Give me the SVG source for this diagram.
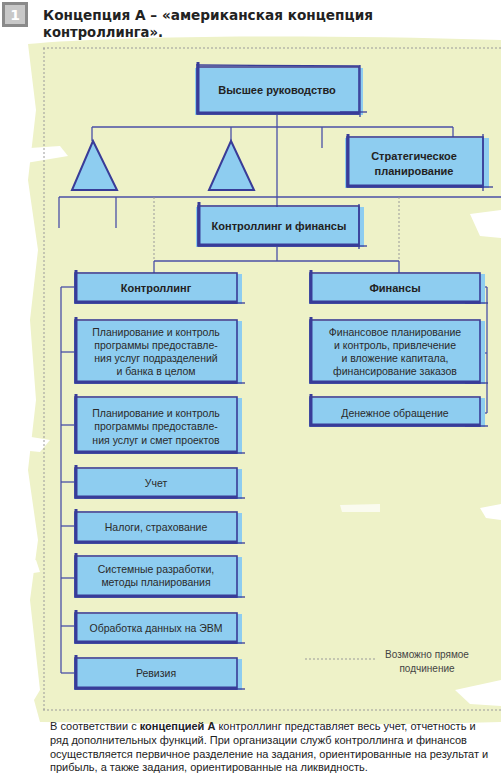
<svg xmlns="http://www.w3.org/2000/svg" width="501" height="777" viewBox="0 0 501 777">
<defs>
<style>
.bg{fill:#eef2c8}
.wh{fill:#ffffff}
.bf{fill:#8ecdf0}
.bs{fill:none;stroke:#393c98;stroke-width:1.6}
.bt{fill:none;stroke:#393c98;stroke-width:3}
.bx{fill:none;stroke:#393c98;stroke-width:1.3}
.cn{fill:none;stroke:#4a4fa6;stroke-width:1.3}
.ds{fill:none;stroke:#9a9a9a;stroke-width:1;stroke-dasharray:2 2}
.tri{fill:#8ecdf0;stroke:#393c98;stroke-width:2;stroke-linejoin:miter}
.t{font-family:"Liberation Sans",Arial,sans-serif;font-size:10.5px;fill:#2a2a2a;text-anchor:middle}
.tb{font-family:"Liberation Sans",Arial,sans-serif;font-size:11px;font-weight:bold;fill:#222;text-anchor:middle}
.ti{font-family:"DejaVu Sans","Liberation Sans",sans-serif;font-size:14px;font-weight:bold;fill:#222}
.p{font-family:"Liberation Sans",Arial,sans-serif;font-size:11px;fill:#222}
.lg{font-family:"Liberation Sans",Arial,sans-serif;font-size:10px;fill:#444;text-anchor:middle}
</style>
</defs>
<rect width="501" height="777" fill="#ffffff"/>
<!-- background brush -->
<path class="bg" d="M28,44 C120,36 300,34 501,40 L501,722 C380,726 200,724 40,722 L34,700 L40,690 L30,600 L38,540 L28,470 L36,400 L30,320 L38,250 L28,180 L36,110 Z"/>
<path class="wh" d="M0,150 L60,146 L68,156 L20,164 L0,162 Z"/>
<path class="wh" d="M0,432 L50,440 L40,452 L0,448 Z"/>
<path class="wh" d="M0,566 L36,560 L40,572 L0,578 Z"/>
<path class="wh" d="M470,214 L501,210 L501,238 L480,236 Z"/>
<path class="wh" d="M480,508 L501,504 L501,520 L486,518 Z"/>
<path class="wh" d="M455,690 L501,680 L501,706 L470,704 Z"/>
<path class="wh" d="M340,505 L380,504 L380,512 L342,512 Z" opacity="0.7"/>
<!-- title -->
<g id="title">
<rect x="3.5" y="3.5" width="23" height="22" fill="#c8c8c8" stroke="#8a8a8a" stroke-width="3"/>
<text x="15" y="20" style="font-family:'DejaVu Sans',sans-serif;font-size:14px;font-weight:bold;fill:#ffffff;text-anchor:middle">1</text>
<text class="ti" x="43" y="20" textLength="330" lengthAdjust="spacingAndGlyphs">Концепция А – «американская концепция</text>
<text class="ti" x="43" y="37" textLength="120" lengthAdjust="spacingAndGlyphs">контроллинга».</text>
</g>
<!-- frame -->
<line class="ds" x1="43" y1="48" x2="501" y2="48"/>
<line class="ds" x1="44" y1="48" x2="44" y2="710"/>
<line class="ds" x1="43" y1="710" x2="501" y2="710"/>
<!-- connectors -->
<g id="connectors">
<line class="cn" x1="277" y1="114" x2="277" y2="261"/>
<line class="cn" x1="92" y1="127" x2="453" y2="127"/>
<line class="cn" x1="92" y1="127" x2="92" y2="141"/>
<line class="cn" x1="231" y1="127" x2="231" y2="141"/>
<line class="cn" x1="322" y1="127" x2="322" y2="148"/>
<line class="cn" x1="453" y1="127" x2="453" y2="137"/>
<line class="cn" x1="59" y1="197" x2="501" y2="197"/>
<line class="cn" x1="59" y1="197" x2="59" y2="228"/>
<line class="cn" x1="116" y1="197" x2="116" y2="228"/>
<line class="ds" x1="154" y1="197" x2="154" y2="261"/>
<line class="ds" x1="399" y1="197" x2="399" y2="261"/>
<line class="cn" x1="154" y1="261" x2="399" y2="261"/>
<line class="cn" x1="154" y1="261" x2="154" y2="273"/>
<line class="cn" x1="399" y1="261" x2="399" y2="273"/>
<line class="cn" x1="61" y1="287" x2="61" y2="673"/>
<line class="cn" x1="61" y1="287" x2="75" y2="287"/>
<line class="cn" x1="61" y1="352" x2="75" y2="352"/>
<line class="cn" x1="61" y1="425" x2="75" y2="425"/>
<line class="cn" x1="61" y1="482" x2="75" y2="482"/>
<line class="cn" x1="61" y1="526" x2="75" y2="526"/>
<line class="cn" x1="61" y1="578" x2="75" y2="578"/>
<line class="cn" x1="61" y1="626" x2="75" y2="626"/>
<line class="cn" x1="61" y1="673" x2="75" y2="673"/>
<line class="cn" x1="487" y1="287" x2="487" y2="413"/>
<line class="cn" x1="480" y1="287" x2="487" y2="287"/>
<line class="cn" x1="480" y1="353" x2="487" y2="353"/>
<line class="cn" x1="480" y1="413" x2="487" y2="413"/>
</g>
<!-- triangles -->
<g id="tri1"><polygon class="tri" points="93,141 72,190 117,190"/></g>
<g id="tri2"><polygon class="tri" points="231,141 209,190 254,190"/></g>
<!-- nodes -->
<g id="top">
<rect class="bf" x="195" y="68" width="168" height="47"/>
<rect class="bs" x="197" y="67" width="162" height="47"/>
<line class="bt" x1="198" y1="62" x2="198" y2="114"/>
<line class="bt" x1="197" y1="113" x2="359" y2="113"/>
<line class="bx" x1="340" y1="112" x2="367" y2="112"/>
<line class="bx" x1="196" y1="65" x2="360" y2="66"/>
<line class="bx" x1="360" y1="65" x2="360" y2="117"/>
<text class="tb" x="277" y="94">Высшее руководство</text>
</g>
<g id="strat">
<rect class="bf" x="345" y="138" width="144" height="50"/>
<rect class="bs" x="347" y="137" width="136" height="50"/>
<line class="bt" x1="348" y1="134" x2="348" y2="187"/>
<line class="bt" x1="347" y1="186" x2="483" y2="186"/>
<line class="bx" x1="470" y1="187" x2="493" y2="187"/>
<line class="bx" x1="483" y1="134" x2="483" y2="191"/>
<text class="tb" x="414" y="160">Стратегическое</text>
<text class="tb" x="414" y="175">планирование</text>
</g>
<g id="cf">
<rect class="bf" x="196" y="207" width="168" height="40"/>
<rect class="bs" x="198" y="206" width="161" height="40"/>
<line class="bt" x1="199" y1="202" x2="199" y2="246"/>
<line class="bt" x1="198" y1="245" x2="359" y2="245"/>
<line class="bx" x1="340" y1="246" x2="367" y2="246"/>
<line class="bx" x1="359" y1="204" x2="359" y2="249"/>
<text class="tb" x="279" y="230">Контроллинг и финансы</text>
</g>
<g id="kontrolling">
<rect class="bf" x="74" y="274" width="168" height="30"/>
<rect class="bs" x="75" y="273" width="162" height="30"/>
<line class="bt" x1="76" y1="270" x2="76" y2="303"/>
<line class="bt" x1="75" y1="302" x2="237" y2="302"/>
<line class="bx" x1="220" y1="303" x2="245" y2="303"/>
<text class="tb" x="156" y="292">Контроллинг</text>
</g>
<g id="k1">
<rect class="bf" x="74" y="321" width="168" height="63"/>
<rect class="bs" x="75" y="320" width="162" height="63"/>
<line class="bt" x1="76" y1="317" x2="76" y2="383"/>
<line class="bt" x1="75" y1="382" x2="237" y2="382"/>
<line class="bx" x1="220" y1="383" x2="245" y2="383"/>
<text class="t" x="156" y="336">Планирование и контроль</text>
<text class="t" x="156" y="349">программы предоставле-</text>
<text class="t" x="156" y="362">ния услуг подразделений</text>
<text class="t" x="156" y="375">и банка в целом</text>
</g>
<g id="k2">
<rect class="bf" x="74" y="398" width="168" height="56"/>
<rect class="bs" x="75" y="397" width="162" height="56"/>
<line class="bt" x1="76" y1="394" x2="76" y2="453"/>
<line class="bt" x1="75" y1="452" x2="237" y2="452"/>
<line class="bx" x1="220" y1="453" x2="245" y2="453"/>
<text class="t" x="156" y="417">Планирование и контроль</text>
<text class="t" x="156" y="430">программы предоставле-</text>
<text class="t" x="156" y="444">ния услуг и смет проектов</text>
</g>
<g id="k3">
<rect class="bf" x="74" y="469" width="168" height="30"/>
<rect class="bs" x="75" y="468" width="162" height="30"/>
<line class="bt" x1="76" y1="465" x2="76" y2="498"/>
<line class="bt" x1="75" y1="497" x2="237" y2="497"/>
<line class="bx" x1="220" y1="498" x2="245" y2="498"/>
<text class="t" x="156" y="487">Учет</text>
</g>
<g id="k4">
<rect class="bf" x="74" y="513" width="168" height="31"/>
<rect class="bs" x="75" y="512" width="162" height="31"/>
<line class="bt" x1="76" y1="509" x2="76" y2="543"/>
<line class="bt" x1="75" y1="542" x2="237" y2="542"/>
<line class="bx" x1="220" y1="543" x2="245" y2="543"/>
<text class="t" x="156" y="531">Налоги, страхование</text>
</g>
<g id="k5">
<rect class="bf" x="74" y="557" width="168" height="41"/>
<rect class="bs" x="75" y="556" width="162" height="41"/>
<line class="bt" x1="76" y1="553" x2="76" y2="597"/>
<line class="bt" x1="75" y1="596" x2="237" y2="596"/>
<line class="bx" x1="220" y1="597" x2="245" y2="597"/>
<text class="t" x="156" y="573">Системные разработки,</text>
<text class="t" x="156" y="586">методы планирования</text>
</g>
<g id="k6">
<rect class="bf" x="74" y="614" width="168" height="30"/>
<rect class="bs" x="75" y="613" width="162" height="30"/>
<line class="bt" x1="76" y1="610" x2="76" y2="643"/>
<line class="bt" x1="75" y1="642" x2="237" y2="642"/>
<line class="bx" x1="220" y1="643" x2="245" y2="643"/>
<text class="t" x="156" y="632">Обработка данных на ЭВМ</text>
</g>
<g id="k7">
<rect class="bf" x="74" y="659" width="168" height="31"/>
<rect class="bs" x="75" y="658" width="162" height="31"/>
<line class="bt" x1="76" y1="655" x2="76" y2="689"/>
<line class="bt" x1="75" y1="688" x2="237" y2="688"/>
<line class="bx" x1="220" y1="689" x2="245" y2="689"/>
<text class="t" x="156" y="677">Ревизия</text>
</g>
<g id="finansy">
<rect class="bf" x="309" y="274" width="176" height="30"/>
<rect class="bs" x="310" y="273" width="170" height="30"/>
<line class="bt" x1="311" y1="270" x2="311" y2="303"/>
<line class="bt" x1="310" y1="302" x2="480" y2="302"/>
<line class="bx" x1="465" y1="303" x2="488" y2="303"/>
<text class="tb" x="395" y="292">Финансы</text>
</g>
<g id="f1">
<rect class="bf" x="309" y="321" width="176" height="63"/>
<rect class="bs" x="310" y="320" width="170" height="63"/>
<line class="bt" x1="311" y1="317" x2="311" y2="383"/>
<line class="bt" x1="310" y1="382" x2="480" y2="382"/>
<line class="bx" x1="465" y1="383" x2="488" y2="383"/>
<text class="t" x="395" y="336">Финансовое планирование</text>
<text class="t" x="395" y="349">и контроль, привлечение</text>
<text class="t" x="395" y="362">и вложение капитала,</text>
<text class="t" x="395" y="375">финансирование заказов</text>
</g>
<g id="f2">
<rect class="bf" x="309" y="398" width="176" height="29"/>
<rect class="bs" x="310" y="397" width="170" height="29"/>
<line class="bt" x1="311" y1="394" x2="311" y2="426"/>
<line class="bt" x1="310" y1="425" x2="480" y2="425"/>
<line class="bx" x1="465" y1="426" x2="488" y2="426"/>
<text class="t" x="395" y="417">Денежное обращение</text>
</g>
<!-- legend -->
<g id="legend">
<line class="ds" x1="305" y1="659" x2="375" y2="659"/>
<text class="lg" x="427" y="658">Возможно прямое</text>
<text class="lg" x="427" y="672">подчинение</text>
</g>
<!-- paragraph -->
<g id="caption">
<text class="p" x="50" y="730">В соответствии с <tspan font-weight="bold">концепцией А</tspan> контроллинг представляет весь учет, отчетность и</text>
<text class="p" x="50" y="744">ряд дополнительных функций. При организации служб контроллинга и финансов</text>
<text class="p" x="50" y="758">осуществляется первичное разделение на задания, ориентированные на результат и</text>
<text class="p" x="50" y="771">прибыль, а также задания, ориентированные на ликвидность.</text>
</g>
</svg>
